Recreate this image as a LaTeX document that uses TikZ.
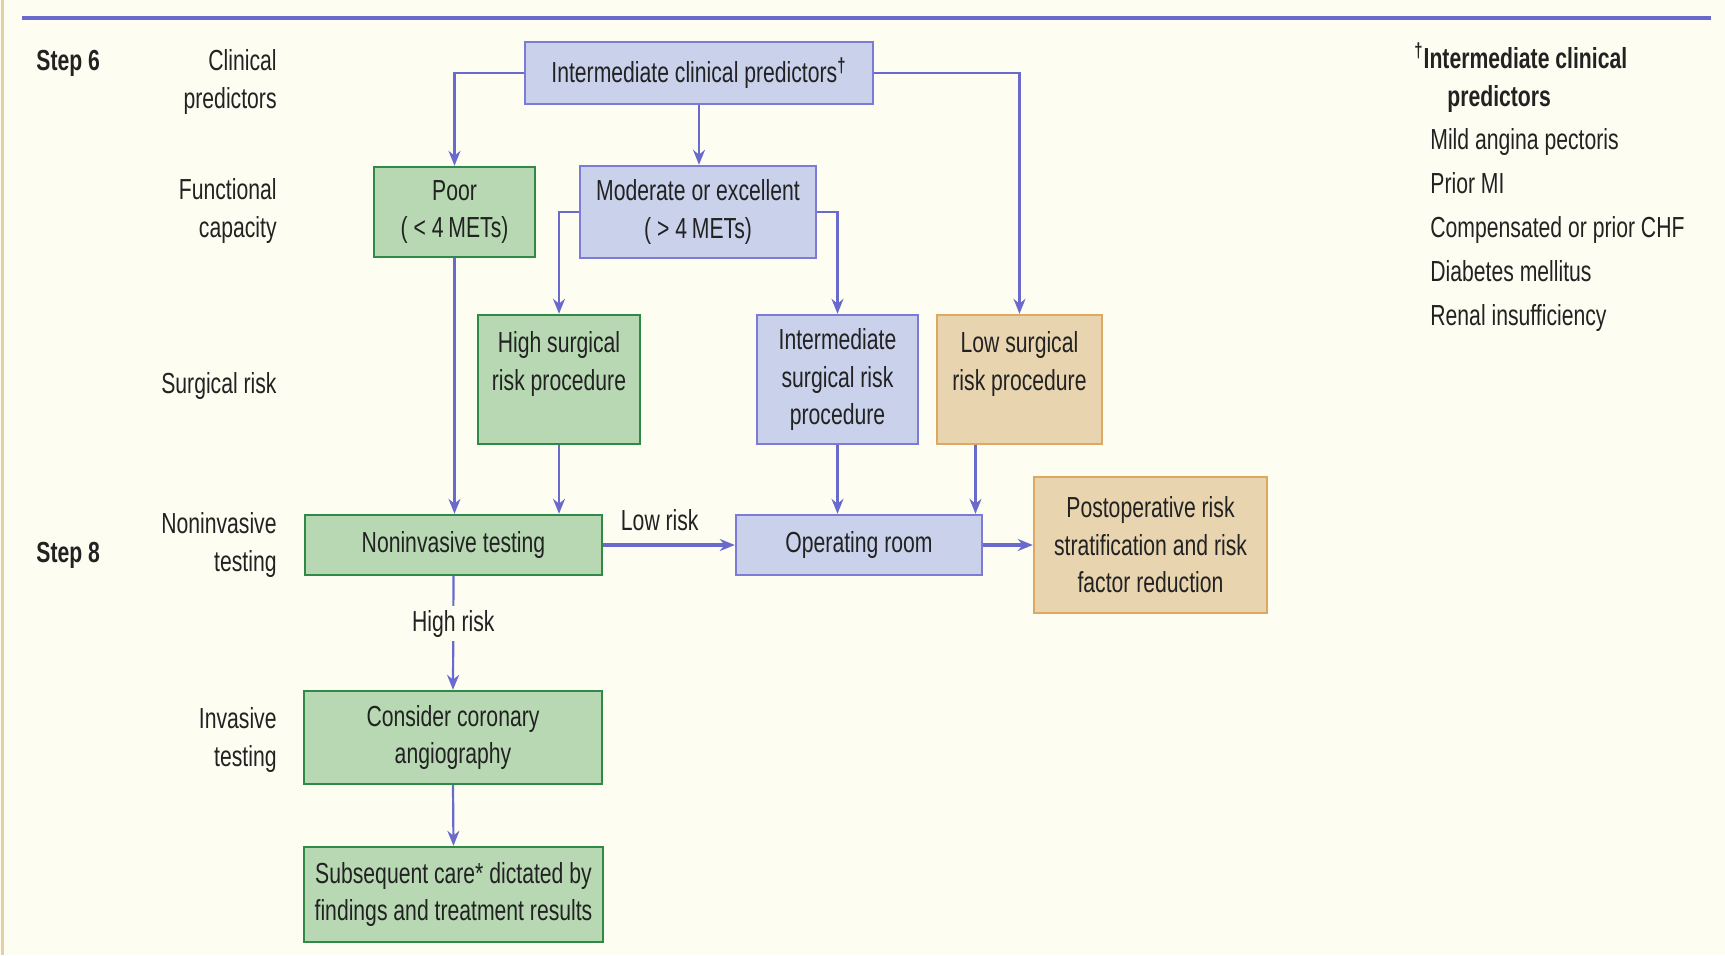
\documentclass[tikz,border=0pt]{standalone}
\usepackage{fontspec}
\setmainfont{Liberation Sans}[FakeStretch=0.73]
\usetikzlibrary{arrows.meta,calc}

\definecolor{bgcream}{HTML}{FDFDF1}
\definecolor{lineblue}{HTML}{6A6ACC}
\definecolor{bluefill}{HTML}{C9D1EB}
\definecolor{blueedge}{HTML}{7C7CD6}
\definecolor{greenfill}{HTML}{B7D8B3}
\definecolor{greenedge}{HTML}{2F8A47}
\definecolor{tanfill}{HTML}{E9D4B0}
\definecolor{tanedge}{HTML}{DCA862}
\definecolor{edgetan}{HTML}{E6CFA8}
\definecolor{inkgray}{HTML}{222222}

\newcommand{\chartfont}{\fontsize{14.5}{18.7}\selectfont}

\tikzset{
  box/.style={draw, line width=1.2pt, align=center, inner sep=0pt, text=inkgray, font=\chartfont},
  bluebox/.style={box, fill=bluefill, draw=blueedge},
  greenbox/.style={box, fill=greenfill, draw=greenedge},
  tanbox/.style={box, fill=tanfill, draw=tanedge},
  rowlabel/.style={anchor=east, align=right, inner sep=0pt, text=inkgray, font=\chartfont},
  steplabel/.style={anchor=west, inner sep=0pt, text=inkgray, font=\chartfont\bfseries},
  legend/.style={anchor=base west, inner sep=0pt, text=inkgray, font=\chartfont},
  arr/.style={draw=lineblue, line width=1.1pt, -{Stealth[length=7.5pt,width=6pt]}},
  fatarr/.style={arr, line width=1.8pt},
}

\begin{document}
\begin{tikzpicture}[x=0.5pt,y=-0.5pt]
  \useasboundingbox[fill=bgcream] (0,0) rectangle (1725,955);
  \draw[edgetan, line width=1.5pt] (2,0) -- (2,955);
  \draw[lineblue, line width=2pt] (22,18) -- (1711,18);

  % row labels
  \node[steplabel] (step6) at (36,63) {Step 6};
  \node[steplabel] (step8) at (36,555) {Step 8};
  \node[rowlabel] (rclin) at (277,82) {Clinical\\predictors};
  \node[rowlabel] (rfunc) at (277,211) {Functional\\capacity};
  \node[rowlabel] (rsurg) at (277,386) {Surgical risk};
  \node[rowlabel] (rnoninv) at (277,545) {Noninvasive\\testing};
  \node[rowlabel] (rinv) at (277,740) {Invasive\\testing};

  % boxes
  \node[bluebox, minimum width=174pt, minimum height=31pt] (icp) at (699,73)
    {Intermediate clinical predictors\textsuperscript{\bfseries\textdagger}};
  \node[greenbox, minimum width=80.5pt, minimum height=45pt] (poor) at (454.5,212)
    {Poor\\( < 4\,METs)};
  \node[bluebox, minimum width=118pt, minimum height=46pt] (mod) at (698,212)
    {Moderate or excellent\\( > 4\,METs)};
  \node[greenbox, minimum width=81pt, minimum height=64.5pt] (high) at (559,379.5)
    {High surgical\\risk procedure\\\mbox{}};
  \node[bluebox, minimum width=80.5pt, minimum height=64.5pt] (intsurg) at (837.5,379.5)
    {Intermediate\\surgical risk\\procedure};
  \node[tanbox, minimum width=82.5pt, minimum height=64.5pt] (low) at (1019.5,379.5)
    {Low surgical\\risk procedure\\\mbox{}};
  \node[greenbox, minimum width=148.5pt, minimum height=30pt] (noninv) at (453.5,545)
    {Noninvasive testing};
  \node[bluebox, minimum width=123pt, minimum height=30pt] (oproom) at (859,545)
    {Operating room};
  \node[tanbox, minimum width=116.5pt, minimum height=68pt] (postop) at (1150.5,545)
    {Postoperative risk\\stratification and risk\\factor reduction};
  \node[greenbox, minimum width=149pt, minimum height=46.5pt] (angio) at (453,737.5)
    {Consider coronary\\angiography};
  \node[greenbox, minimum width=149.5pt, minimum height=47.5pt] (subseq) at (453.5,894.5)
    {Subsequent care* dictated by\\findings and treatment results};

  % connectors
  \draw[arr] (icp.west) -| (poor.north);
  \draw[arr] (icp.south) -- (icp.south |- mod.north);
  \draw[arr] (icp.east) -| (low.north);
  \draw[arr] (mod.west) -| (high.north);
  \draw[arr] (mod.east) -| (intsurg.north);
  \draw[arr] (poor.south) -- (poor.south |- noninv.north);
  \draw[arr] (high.south) -- (high.south |- noninv.north);
  \draw[arr] (intsurg.south) -- (intsurg.south |- oproom.north);
  \draw[arr] ([xshift=-22pt]low.south) -- ([xshift=-22pt]low.south |- oproom.north);
  \draw[fatarr] (noninv.east) -- (oproom.west)
    node[pos=0.43, above=3pt, text=inkgray, font=\chartfont] (lowrisk) {Low risk};
  \draw[fatarr] (oproom.east) -- (postop.west);
  \draw[arr] (noninv.south) -- (angio.north)
    node[pos=0.42, fill=bgcream, inner xsep=1pt, inner ysep=2pt, text=inkgray, font=\chartfont] (highrisk) {High risk};
  \draw[arr] (angio.south) -- (subseq.north);

  % legend
  \node[legend, font=\chartfont\bfseries] (lgdhead) at (1414,68)
    {\textsuperscript{\textdagger}Intermediate clinical};
  \node[legend, font=\chartfont\bfseries] (lgdsub) at (1447,106) {predictors};
  \foreach \txt [count=\i] in {Mild angina pectoris, Prior MI, Compensated or prior CHF,
      Diabetes mellitus, Renal insufficiency}
    \node[legend] (lgd\i) at (1430,105+44*\i) {\txt};
\end{tikzpicture}
\end{document}
